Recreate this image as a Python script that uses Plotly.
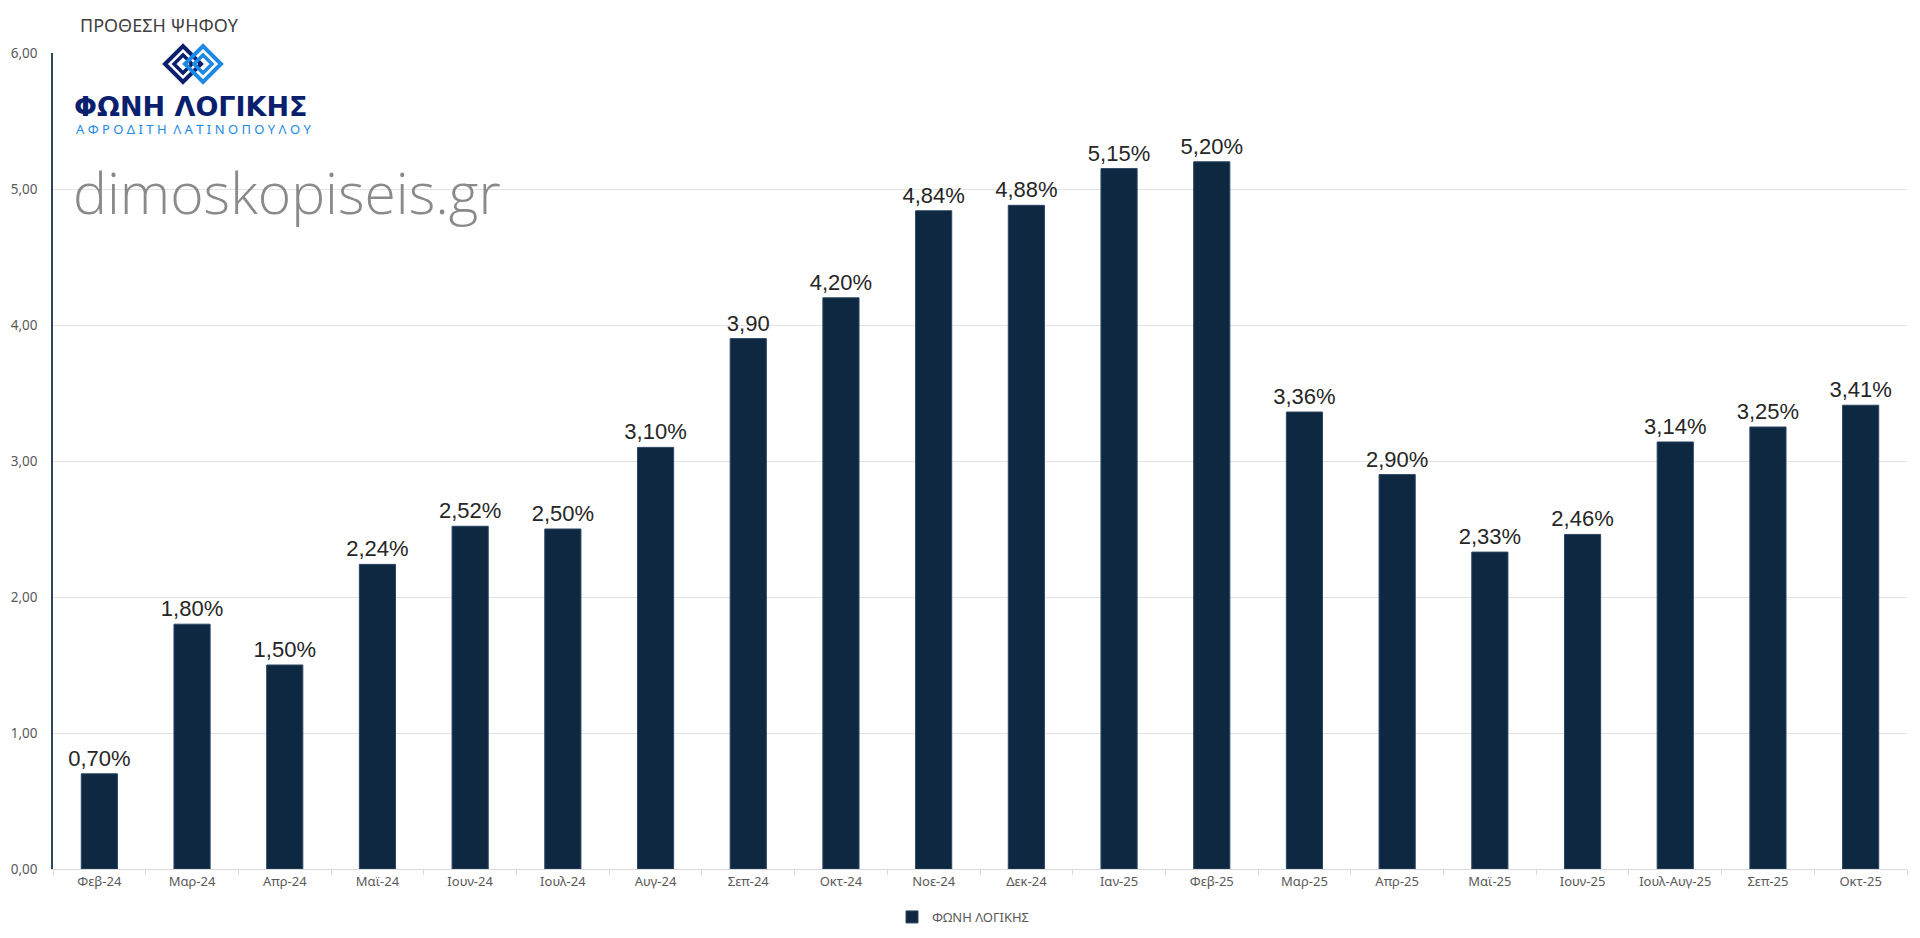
import plotly.graph_objects as go

categories = ["Φεβ-24", "Μαρ-24", "Απρ-24", "Μαϊ-24", "Ιουν-24", "Ιουλ-24", "Αυγ-24",
              "Σεπ-24", "Οκτ-24", "Νοε-24", "Δεκ-24", "Ιαν-25", "Φεβ-25", "Μαρ-25",
              "Απρ-25", "Μαϊ-25", "Ιουν-25", "Ιουλ-Αυγ-25", "Σεπ-25", "Οκτ-25"]
values = [0.70, 1.80, 1.50, 2.24, 2.52, 2.50, 3.10, 3.90, 4.20, 4.84, 4.88, 5.15, 5.20,
          3.36, 2.90, 2.33, 2.46, 3.14, 3.25, 3.41]
labels = ["0,70%", "1,80%", "1,50%", "2,24%", "2,52%", "2,50%", "3,10%", "3,90", "4,20%",
          "4,84%", "4,88%", "5,15%", "5,20%", "3,36%", "2,90%", "2,33%", "2,46%", "3,14%",
          "3,25%", "3,41%"]
series_name = "ΦΩΝΗ ΛΟΓΙΚΗΣ"

# page offset of the figure (body margin) is 8px
OFF = 8
W, H = 1904, 922
PLOT_X0, PLOT_X1 = 53, 1907      # page coords of plot area
PLOT_Y0, PLOT_Y1 = 53, 869
PW, PH = PLOT_X1 - PLOT_X0, PLOT_Y1 - PLOT_Y0
L = PLOT_X0 - OFF
T = PLOT_Y0 - OFF
R = W - L - PW
B = H - T - PH


def px(x):
    return (x - PLOT_X0) / PW


def py(y):
    return (PLOT_Y1 - y) / PH


fig = go.Figure()
fig.add_trace(go.Bar(
    x=categories, y=values, name=series_name,
    text=labels, textposition="outside", constraintext="none", cliponaxis=False,
    textfont=dict(family="Liberation Sans, Arial", size=22, color="#262626"),
    marker=dict(color="#0e2841", line=dict(color="#2b4563", width=1)),
    hoverinfo="x+y",
))

shapes = []


def diamond(cx, cy, r):
    return (f"M {px(cx - r)} {py(cy)} L {px(cx)} {py(cy - r)} "
            f"L {px(cx + r)} {py(cy)} L {px(cx)} {py(cy + r)} Z")


# logo icon (approximation)
for cx, col in [(183, "#0a1f6e"), (203, "#1e88e5")]:
    shapes.append(dict(type="path", xref="paper", yref="paper", path=diamond(cx, 64, 18),
                       line=dict(color=col, width=4)))
    shapes.append(dict(type="path", xref="paper", yref="paper", path=diamond(cx, 64, 9),
                       line=dict(color=col, width=3.5)))

annotations = [
    dict(text="ΠΡΟΘΕΣΗ ΨΗΦΟΥ", x=px(78), y=py(25), xref="paper", yref="paper",
         xanchor="left", yanchor="middle", showarrow=False,
         font=dict(family="Noto Sans", size=18, color="#404040")),
    dict(text="<b>ΦΩΝΗ ΛΟΓΙΚΗΣ</b>", x=px(72), y=py(107), xref="paper", yref="paper",
         xanchor="left", yanchor="middle", showarrow=False,
         font=dict(family="DejaVu Sans", size=27, color="#0a1f6e")),
    dict(text="Α Φ Ρ Ο Δ Ι Τ Η  Λ Α Τ Ι Ν Ο Π Ο Υ Λ Ο Υ", x=px(74), y=py(129),
         xref="paper", yref="paper", xanchor="left", yanchor="middle", showarrow=False,
         font=dict(family="Noto Sans", size=13, color="#1e88e5")),
    dict(text="dimoskopiseis.gr", x=px(71), y=py(192), xref="paper", yref="paper",
         xanchor="left", yanchor="middle", showarrow=False,
         font=dict(family="Open Sans", size=57, color="#8a8a8a", weight=300)),
]

fig.update_layout(
    width=W, height=H,
    margin=dict(l=L, r=R, t=T, b=B, autoexpand=False),
    paper_bgcolor="white", plot_bgcolor="white",
    separators=",.",
    bargap=0.61,
    showlegend=True,
    legend=dict(orientation="h", x=px(963), xanchor="center", y=py(917), yanchor="middle",
                font=dict(family="Noto Sans", size=13, color="#595959"),
                itemwidth=30),
    shapes=shapes,
    annotations=annotations,
    xaxis=dict(type="category", showgrid=False, showline=True, linecolor="#d9d9d9",
               linewidth=1, ticks="outside", tickson="boundaries", ticklen=5,
               tickcolor="#d9d9d9", tickfont=dict(family="Noto Sans", size=13, color="#595959"),
               fixedrange=True),
    yaxis=dict(range=[0, 6], dtick=1, tickformat=".2f", showgrid=True, gridcolor="#e3e3e3",
               gridwidth=1, showline=True, linecolor="#2b4563", linewidth=1.5,
               zeroline=False, ticks="", ticklabelstandoff=11,
               tickfont=dict(family="Noto Sans", size=13.5, color="#595959")),
    font=dict(family="Noto Sans"),
)

fig.write_html("out.html")
